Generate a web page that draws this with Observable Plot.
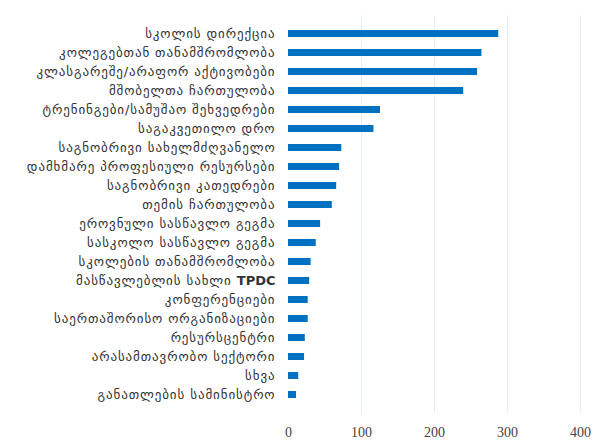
<!DOCTYPE html>
<html>
<head>
<meta charset="utf-8">
<script src="https://cdn.jsdelivr.net/npm/d3@7"></script>
<script src="https://cdn.jsdelivr.net/npm/@observablehq/plot@0.6"></script>
<style>
  body { margin: 0; background: #fff; }
  #chart { width: 600px; height: 443px; }
  .ylab text { letter-spacing: 0.9px; }
</style>
</head>
<body>
<div id="chart"></div>
<script>
const categories = [
  "სკოლის დირექცია",
  "კოლეგებთან თანამშრომლობა",
  "კლასგარეშე/არაფორ აქტივობები",
  "მშობელთა ჩართულობა",
  "ტრენინგები/სამუშაო შეხვედრები",
  "საგაკვეთილო დრო",
  "საგნობრივი სახელმძღვანელო",
  "დამხმარე პროფესიული რესურსები",
  "საგნობრივი კათედრები",
  "თემის ჩართულობა",
  "ეროვნული სასწავლო გეგმა",
  "სასკოლო სასწავლო გეგმა",
  "სკოლების თანამშრომლობა",
  "მასწავლებლის სახლი TPDC",
  "კონფერენციები",
  "საერთაშორისო ორგანიზაციები",
  "რესურსცენტრი",
  "არასამთავრობო სექტორი",
  "სხვა",
  "განათლების სამინისტრო"
];
const values = [288, 265, 259, 240, 126, 117, 73, 70, 66, 60, 44, 38, 31, 29, 27, 27, 23, 22, 14, 11];
const xTicks = [0, 100, 200, 300, 400];
const gridTicks = [100, 200, 300, 400];

const data = categories.map((c, i) => ({category: c, value: values[i]}));

const chart = Plot.plot({
  width: 600,
  height: 443,
  marginTop: 10,
  marginBottom: 25,
  marginLeft: 288,
  marginRight: 20,
  style: {fontFamily: "DejaVu Sans", background: "#fff"},
  x: {domain: [0, 400], ticks: xTicks, label: null},
  y: {domain: categories, padding: 0.64, label: null},
  marks: [
    Plot.ruleX(gridTicks, {stroke: "#e4eef7", strokeWidth: 1, insetTop: 5, insetBottom: 5}),
    Plot.barX(data, {x: "value", y: "category", fill: "#0070c0"}),
    Plot.axisY({tickSize: 0, tickPadding: 13, fontSize: 13, color: "#333", label: null, className: "ylab"}),
    Plot.axisX({ticks: xTicks, tickSize: 0, tickPadding: 9, fontSize: 14, fontFamily: "Liberation Serif", color: "#444", label: null})
  ]
});
document.getElementById("chart").appendChild(chart);

// make "TPDC" bold in the label
chart.querySelectorAll("text").forEach(t => {
  if (t.textContent.includes("TPDC")) {
    const parts = t.textContent.split("TPDC");
    t.textContent = "";
    const a = document.createElementNS("http://www.w3.org/2000/svg", "tspan");
    a.textContent = parts[0];
    const b = document.createElementNS("http://www.w3.org/2000/svg", "tspan");
    b.textContent = "TPDC";
    b.setAttribute("font-weight", "bold");
    b.setAttribute("letter-spacing", "0");
    t.appendChild(a); t.appendChild(b);
  }
});
</script>
</body>
</html>
